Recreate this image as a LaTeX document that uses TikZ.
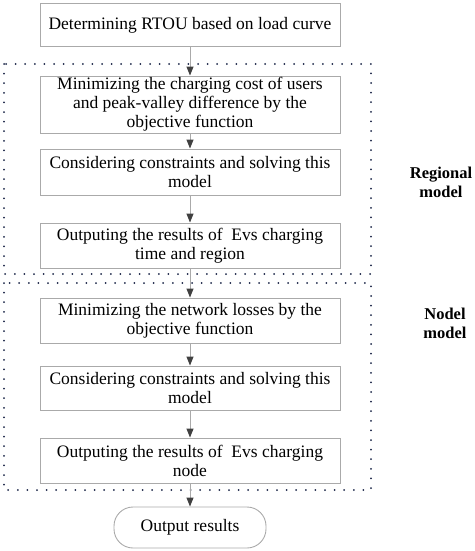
\documentclass[tikz,border=0pt]{standalone}
\usepackage{fontspec}
\setmainfont{Liberation Serif}
\usetikzlibrary{arrows.meta}
\definecolor{boxgray}{RGB}{170,170,170}
\definecolor{headgray}{RGB}{64,64,64}
\definecolor{dotblue}{RGB}{25,35,70}
\tikzset{
  stepbox/.style={draw=boxgray, line width=0.9pt, align=center, minimum width=300pt, inner sep=0pt, font=\fontsize{17.5}{19}\selectfont},
  flow/.style={draw=boxgray, line width=1pt, -{Triangle[length=9pt,width=7pt,fill=headgray,color=headgray]}},
  region/.style={draw=dotblue, line width=2pt, dash pattern=on 0pt off 9.6pt, line cap=round},
  sidelabel/.style={align=center, font=\fontsize{16.5}{19}\selectfont\bfseries}
}
\begin{document}
\begin{tikzpicture}[x=1pt,y=1pt]
\useasboundingbox (0,0) rectangle (474,-551);
\draw[region] (4,-64) rectangle (371,-274);
\draw[region] (4,-283) rectangle (371,-490);
\node[stepbox, minimum height=43pt] (b1) at (190,-25) {Determining RTOU based on load curve};
\node[stepbox, minimum height=57pt] (b2) at (190,-104.5) {Minimizing the charging cost of users\\and peak-valley difference by the\\objective function};
\node[stepbox, minimum height=46pt] (b3) at (190,-172) {Considering constraints and solving this\\model};
\node[stepbox, minimum height=45pt] (b4) at (190,-245.5) {Outputing the results of~ Evs charging\\time and region};
\node[stepbox, minimum height=45pt] (b5) at (190,-320.5) {Minimizing the network losses by the\\objective function};
\node[stepbox, minimum height=44pt] (b6) at (190,-388) {Considering constraints and solving this\\model};
\node[stepbox, minimum height=45pt] (b7) at (190,-460.5) {Outputing the results of~ Evs charging\\node};
\node[stepbox, minimum width=152pt, minimum height=41pt, rounded corners=19pt] (out) at (190,-527.5) {Output results};
\node[sidelabel] (lab1) at (441,-182) {Regional\\model};
\node[sidelabel] (lab2) at (445,-323) {Nodel\\model};
\draw[flow] (b1) -- (b2);
\draw[flow] (b2) -- (b3);
\draw[flow] (b3) -- (b4);
\draw[flow] (b4) -- (b5);
\draw[flow] (b5) -- (b6);
\draw[flow] (b6) -- (b7);
\draw[flow] (b7) -- (out);
\end{tikzpicture}
\end{document}
